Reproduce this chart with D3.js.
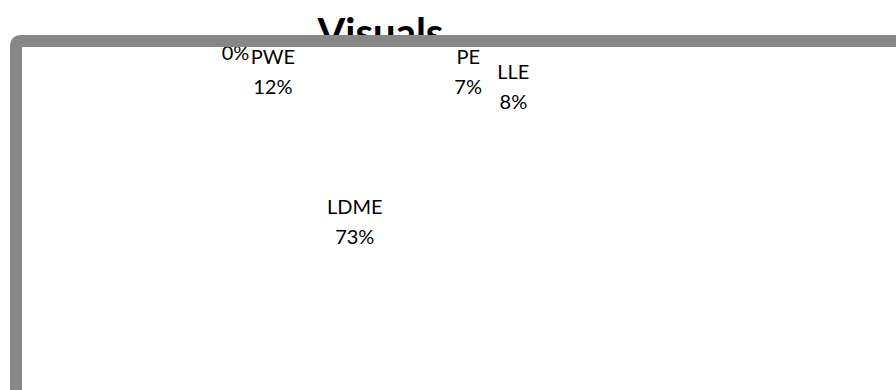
<!DOCTYPE html>
<html>
<head>
<meta charset="utf-8">
<script src="https://cdn.jsdelivr.net/npm/d3@7"></script>
<style>
  html, body { margin: 0; padding: 0; background: #fff; }
  svg { display: block; }
</style>
</head>
<body>
<script>
// Share of visuals by category (percent)
const categories = ["Other", "PWE", "PE", "LLE", "LDME"];
const shares = [0, 12, 7, 8, 73];
const chartTitle = "Visuals";

const W = 896, H = 390;
const FONT = "Lato, Carlito, 'Open Sans', sans-serif";

const svg = d3.select("body").append("svg")
  .attr("width", W).attr("height", H)
  .style("background", "#fff");

// Title, drawn first so the chart frame overlaps it
svg.append("text")
  .attr("x", 380.5).attr("y", 47)
  .attr("text-anchor", "middle")
  .attr("font-family", FONT)
  .attr("font-weight", 700)
  .attr("font-size", 40)
  .attr("fill", "#000")
  .text(chartTitle);

// Chart frame geometry
const frame = { x: 16, y: 41, w: 1000, h: 500, stroke: 12, color: "#878787" };

// Everything in the plot is clipped to the inside of the frame
svg.append("clipPath").attr("id", "plot-clip")
  .append("rect")
  .attr("x", frame.x + frame.stroke / 2)
  .attr("y", frame.y + frame.stroke / 2)
  .attr("width", W).attr("height", H);

const plot = svg.append("g").attr("clip-path", "url(#plot-clip)");

// Pie layout
const cx = 370.5, cy = 132, radius = 183;
const startAngle = -38.7 * Math.PI / 180;
const data = categories.map((name, i) => ({ name, value: shares[i] }));
const total = d3.sum(shares);

const pie = d3.pie()
  .sort(null)
  .value(d => d.value)
  .startAngle(startAngle)
  .endAngle(startAngle + 2 * Math.PI);
const arcs = pie(data);
const arc = d3.arc().innerRadius(0).outerRadius(radius);

const g = plot.append("g").attr("transform", `translate(${cx},${cy})`);

g.selectAll("path.slice")
  .data(arcs)
  .join("path")
  .attr("class", "slice")
  .attr("d", arc)
  .attr("fill", "#ffffff");

// Label placement: large slices get their label at the centroid,
// small slices on a label ring pushed out to the side they lie on.
const ring = { rx: 112.5, ry: 63, pad: 64.6 };
function labelPos(d) {
  if (d.data.value / total >= 0.5) return arc.centroid(d);
  const a = (d.startAngle + d.endAngle) / 2;
  const s = Math.sin(a);
  return [ring.rx * s + Math.sign(s) * ring.pad, -ring.ry * Math.cos(a)];
}

const pct = d3.format(".0%");
const lineH = 30, fontSize = 20;

const labels = g.selectAll("text.label")
  .data(arcs)
  .join("text")
  .attr("class", "label")
  .attr("text-anchor", "middle")
  .attr("font-family", FONT)
  .attr("font-size", fontSize)
  .attr("fill", "#000")
  .each(function (d) {
    const [x, y] = labelPos(d);
    // empty categories show only their value
    const lines = d.data.value > 0
      ? [d.data.name, pct(d.data.value / total)]
      : [pct(d.data.value / total)];
    const first = y - (lines.length - 1) * lineH / 2 + 7;
    d3.select(this).selectAll("tspan")
      .data(lines)
      .join("tspan")
      .attr("x", x)
      .attr("y", (t, i) => first + i * lineH)
      .text(t => t);
  });

// A smaller label that collides with a larger one is lifted by one line
const pad = 6;
const nodes = labels.nodes();
const boxes = nodes.map(n => n.getBBox());
nodes.forEach((n, i) => {
  const di = arcs[i].data.value;
  const bi = boxes[i];
  const hit = nodes.some((m, j) => {
    if (j === i || arcs[j].data.value <= di) return false;
    const bj = boxes[j];
    return bi.x < bj.x + bj.width + pad && bj.x < bi.x + bi.width + pad &&
           bi.y < bj.y + bj.height && bj.y < bi.y + bi.height;
  });
  if (hit) d3.select(n).attr("transform", `translate(0,${-lineH})`);
});

// Chart frame on top
svg.append("rect")
  .attr("x", frame.x).attr("y", frame.y)
  .attr("width", frame.w).attr("height", frame.h)
  .attr("rx", 4).attr("ry", 4)
  .attr("fill", "none")
  .attr("stroke", frame.color)
  .attr("stroke-width", frame.stroke);
</script>
</body>
</html>
